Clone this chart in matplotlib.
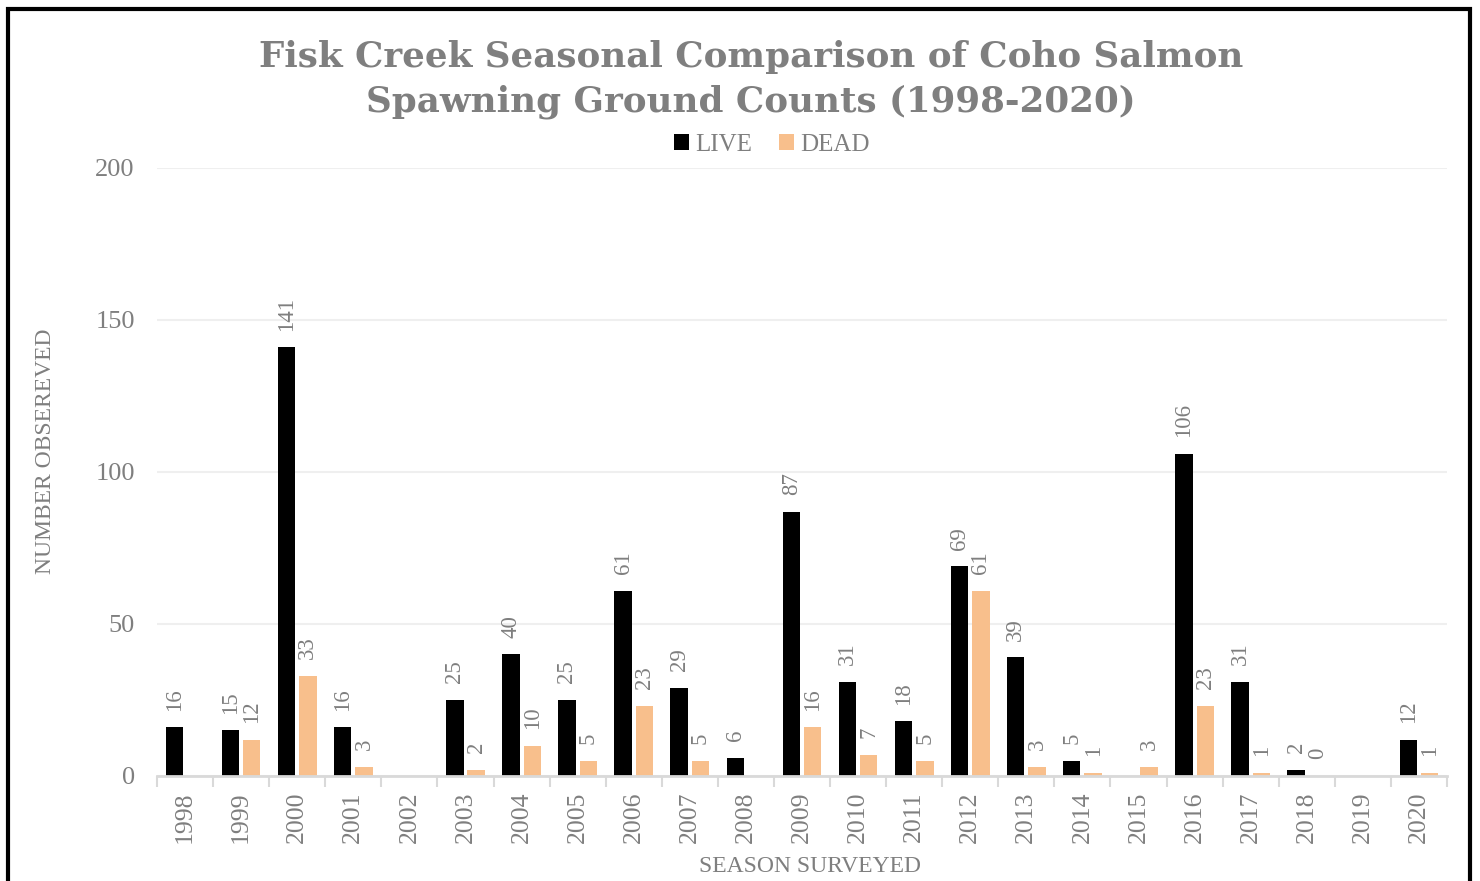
import numpy as np
import matplotlib
matplotlib.use("Agg")
import matplotlib.pyplot as plt
from matplotlib.patches import Rectangle

# chart data
years = [str(y) for y in range(1998, 2021)]
live = [16, 15, 141, 16, np.nan, 25, 40, 25, 61, 29, 6, 87, 31, 18, 69, 39, 5, np.nan, 106, 31, 2, np.nan, 12]
dead = [np.nan, 12, 33, 3, np.nan, 2, 10, 5, 23, 5, np.nan, 16, 7, 5, 61, 3, 1, 3, 23, 1, 0, np.nan, 1]

title = "Fisk Creek Seasonal Comparison of Coho Salmon\nSpawning Ground Counts (1998-2020)"
series_names = ["LIVE", "DEAD"]
colors = ["#000000", "#F8BF8C"]
gray = "#7f7f7f"
serif = ["Liberation Serif", "DejaVu Serif"]

W, H = 1480, 881
fig = plt.figure(figsize=(W / 100, H / 100), dpi=100)
fig.patch.set_facecolor("white")

ax = fig.add_axes([157 / W, 1 - 776 / H, (1447 - 157) / W, (776 - 168) / H])

x = np.arange(len(years))
bw = 0.31
off = 0.19
bars = []
for i, (vals, c) in enumerate(zip([live, dead], colors)):
    pos = x + (-off if i == 0 else off)
    b = ax.bar(pos, vals, width=bw, color=c, label=series_names[i], zorder=3)
    bars.append(b)
    for p, v in zip(pos, vals):
        if np.isnan(v):
            continue
        ax.annotate(f"{int(v)}", (p, v), xytext=(0, 12), textcoords="offset points",
                    rotation=90, ha="center", va="bottom", fontsize=16.5,
                    color=gray, family=serif)

ax.set_xlim(-0.5, len(years) - 0.5)
ax.set_ylim(0, 200)
ax.set_yticks([0, 50, 100, 150, 200])
ax.set_xticks(x)
ax.set_xticklabels(years, rotation=90, fontsize=18.5, color=gray, family=serif)
ax.set_xticks(np.arange(-0.5, len(years)), minor=True)
for lab in ax.get_yticklabels():
    lab.set_fontsize(19)
    lab.set_color(gray)
    lab.set_family(serif)

ax.tick_params(axis="x", which="major", length=0, pad=11)
ax.tick_params(axis="x", which="minor", length=8, width=1.5, color="#d9d9d9")
ax.tick_params(axis="y", length=0, pad=16)

ax.grid(axis="y", color="#efefef", linewidth=1.5, zorder=0)
ax.set_axisbelow(True)
for s in ["top", "right", "left"]:
    ax.spines[s].set_visible(False)
ax.spines["bottom"].set_color("#d9d9d9")
ax.spines["bottom"].set_linewidth(2)
ax.spines["bottom"].set_zorder(4)

fig.text(751 / W, 1 - 40 / H, title, ha="center", va="top", fontsize=25.7,
         fontweight="bold", color=gray, family=["DejaVu Serif"], linespacing=1.38)

fig.text(46 / W, 1 - 451 / H, "NUMBER OBSEREVED", rotation=90, ha="center", va="center",
         fontsize=17, color=gray, family=serif)
fig.text(810 / W, 1 - 867 / H, "SEASON SURVEYED", ha="center", va="center",
         fontsize=17, color=gray, family=serif)

leg = fig.legend(handles=bars, labels=series_names, loc="center", bbox_to_anchor=(772 / W, 1 - 145 / H),
                 ncol=2, frameon=False, handlelength=0.6, handleheight=0.6, handletextpad=0.25,
                 columnspacing=1.1, prop={"family": serif, "size": 18})
for t in leg.get_texts():
    t.set_color(gray)

# outer border
fig.patches.append(Rectangle((7.5 / W, -0.05), (1470 - 7.5) / W, 1.05 - 9 / H, transform=fig.transFigure,
                             fill=False, edgecolor="black", linewidth=3, zorder=10))

fig.savefig("out.png", dpi=100)
